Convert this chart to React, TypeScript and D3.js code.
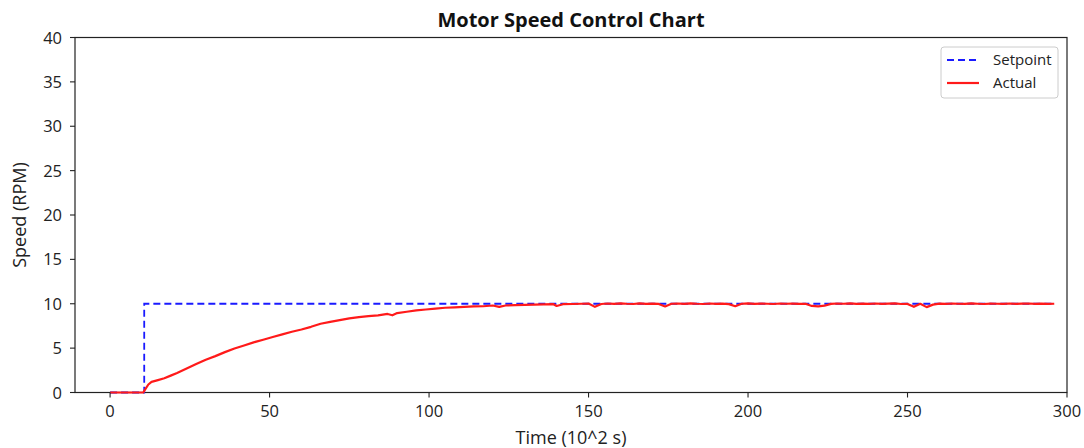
import React from "react";
import * as d3 from "d3";

const setpointTime = [0, 10.7, 10.7, 296];
const setpointSpeed = [0, 0, 10, 10];

const actualTime = [
  0, 10.4, 11, 12, 13, 15, 17, 19, 21, 24, 27, 30, 33, 36, 39, 42, 45, 48, 51, 54, 57, 60, 63, 66, 69, 72, 75, 78, 81, 84, 87, 88.5, 90, 93, 96, 99, 102, 105, 108, 111, 114, 117, 120, 122, 124, 127, 130, 133, 136, 139, 140, 142, 145, 148,
  150, 152, 154, 156, 158, 160, 162, 164, 166, 168, 170, 172, 174, 176, 178, 180, 182, 184, 186, 188, 190, 192, 194, 196, 198, 200, 202, 204, 206, 208, 210, 212, 214, 216, 218, 220, 222, 224, 226, 228, 230, 232, 234, 236, 238, 240, 242, 244, 246, 248, 250, 252, 254, 256, 258, 260, 262, 264, 266, 268, 270, 272, 274, 276, 278, 280, 282, 284, 286, 288, 290, 292, 294, 296,
];
const actualSpeed = [
  0, 0, 0.35, 0.9, 1.2, 1.4, 1.6, 1.9, 2.2, 2.7, 3.2, 3.7, 4.1, 4.55, 4.95, 5.3, 5.65, 5.95, 6.25, 6.55, 6.85, 7.1, 7.4, 7.75, 7.95, 8.15, 8.35, 8.5, 8.6, 8.7, 8.85, 8.7, 8.95, 9.1, 9.25, 9.35, 9.45, 9.55, 9.6, 9.65, 9.7, 9.72, 9.8, 9.65, 9.8, 9.85, 9.88, 9.9, 9.92, 9.95, 9.75, 9.95, 9.97, 10.0,
  10.02, 9.65, 9.97, 10.03, 9.98, 10.05, 10.0, 9.97, 10.04, 9.99, 10.02, 9.98, 9.7, 10.0, 10.03, 9.98, 10.05, 10.0, 9.97, 10.03, 9.99, 10.02, 9.96, 9.72, 10.0, 10.04, 9.98, 10.02, 10.0, 9.97, 10.03, 10.0, 10.02, 9.98, 10.0, 9.75, 9.7, 9.78, 9.98, 10.03, 10.0, 10.04, 9.98, 10.02, 9.99, 10.03, 9.98, 10.01, 10.04, 9.97, 9.98, 9.65, 10.0, 9.62, 9.9, 10.02, 9.98, 10.03, 10.0, 9.98, 10.04, 10.0, 9.97, 10.02, 10.0, 9.98, 10.03, 9.98, 10.01, 10.03, 9.99, 10.01, 9.98, 10.0,
];

const xTicks = [0, 50, 100, 150, 200, 250, 300];
const yTicks = [0, 5, 10, 15, 20, 25, 30, 35, 40];

const title = "Motor Speed Control Chart";
const xLabel = "Time (10^2 s)";
const yLabel = "Speed (RPM)";
const seriesNames = ["Setpoint", "Actual"];

const W = 1084;
const H = 448;
const M = { left: 75, right: 17, top: 37.5, bottom: 55.5 };
const FONT = "'Open Sans', 'Noto Sans', sans-serif";

export default function App() {
  const x = d3.scaleLinear().domain([-11, 300]).range([M.left, W - M.right]);
  const y = d3.scaleLinear().domain([0, 40]).range([H - M.bottom, M.top]);
  const line = d3
    .line<[number, number]>()
    .x((d) => x(d[0]))
    .y((d) => y(d[1]));
  const sp: [number, number][] = setpointTime.map((t, i) => [t, setpointSpeed[i]]);
  const ac: [number, number][] = actualTime.map((t, i) => [t, actualSpeed[i]]);
  const x0 = x.range()[0];
  const x1 = x.range()[1];
  const y0 = y.range()[0];
  const y1 = y.range()[1];
  const lx = 941;
  const ly = 47;
  return (
    <svg width={W} height={H} style={{ position: "absolute", left: 0, top: 0, background: "#fff" }} fontFamily={FONT}>
      <rect x={0} y={0} width={W} height={H} fill="#fff" />
      <text x={(x0 + x1) / 2} y={27} textAnchor="middle" fontSize={20} fontWeight="bold" fill="#111">
        {title}
      </text>
      <rect x={x0} y={y1} width={x1 - x0} height={y0 - y1} fill="none" stroke="#222" strokeWidth={1.2} />
      <path d={line(sp) || ""} fill="none" stroke="#1a1aff" strokeWidth={1.8} strokeDasharray="7,4" />
      <path d={line(ac) || ""} fill="none" stroke="#ff1a1a" strokeWidth={2.2} strokeLinejoin="round" />
      {xTicks.map((t) => (
        <g key={"x" + t}>
          <line x1={x(t)} x2={x(t)} y1={y0} y2={y0 + 5} stroke="#222" strokeWidth={1.1} />
          <text x={x(t)} y={y0 + 24} textAnchor="middle" fontSize={16.5} fill="#222">
            {t}
          </text>
        </g>
      ))}
      {yTicks.map((t) => (
        <g key={"y" + t}>
          <line x1={x0 - 5} x2={x0} y1={y(t)} y2={y(t)} stroke="#222" strokeWidth={1.1} />
          <text x={x0 - 13} y={y(t) + 6} textAnchor="end" fontSize={16.5} fill="#222">
            {t}
          </text>
        </g>
      ))}
      <text x={(x0 + x1) / 2} y={444} textAnchor="middle" fontSize={18} fill="#222">
        {xLabel}
      </text>
      <text transform={`translate(26,${(y0 + y1) / 2}) rotate(-90)`} textAnchor="middle" fontSize={18} fill="#222">
        {yLabel}
      </text>
      <g>
        <rect x={lx} y={ly} width={117} height={51} rx={3} fill="#fff" stroke="#ccc" strokeWidth={1} />
        <line x1={lx + 6} x2={lx + 38} y1={ly + 13} y2={ly + 13} stroke="#1a1aff" strokeWidth={1.8} strokeDasharray="7,4" />
        <text x={lx + 52} y={ly + 18} fontSize={15} fill="#222">
          {seriesNames[0]}
        </text>
        <line x1={lx + 6} x2={lx + 38} y1={ly + 36} y2={ly + 36} stroke="#ff1a1a" strokeWidth={2.2} />
        <text x={lx + 52} y={ly + 41} fontSize={15} fill="#222">
          {seriesNames[1]}
        </text>
      </g>
    </svg>
  );
}
